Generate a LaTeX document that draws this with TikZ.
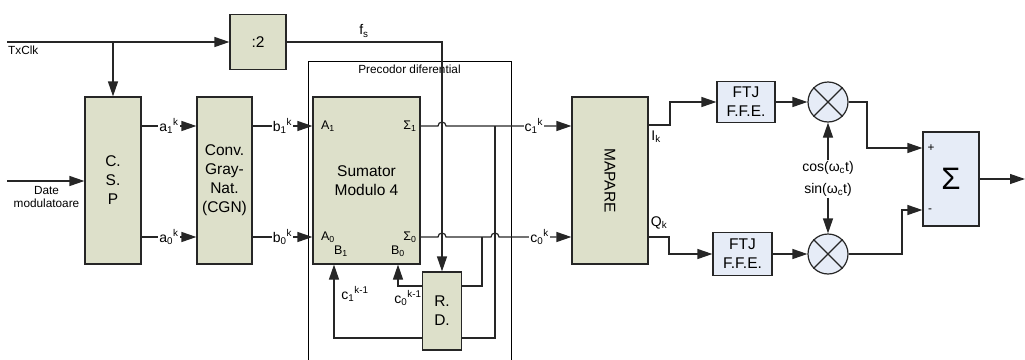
\documentclass[tikz,border=0pt]{standalone}
\usepackage{fontspec}
\setmainfont{Liberation Sans}
\usepackage{graphicx}
\usetikzlibrary{arrows.meta,calc}
\definecolor{boxg}{HTML}{DDE0CA}
\definecolor{boxb}{HTML}{E6ECF7}
\definecolor{ln}{HTML}{262626}
\begin{document}
\begin{tikzpicture}[x=1pt,y=-1pt,
  con/.style={draw=ln,line width=1.2pt},
  arr/.style={con,-{Triangle[length=15pt,width=10pt]}},
  gbox/.style={draw=ln,line width=1.2pt,fill=boxg,inner sep=0pt,align=center,
     font=\fontsize{15.5}{19}\selectfont},
  bbox/.style={draw=ln,line width=1.2pt,fill=boxb,inner sep=0pt,align=center,
     font=\fontsize{15.5}{19}\selectfont},
  mixer/.style={draw=ln,line width=1.2pt,fill=boxb,circle,minimum size=40pt,inner sep=0pt},
  lbl/.style={fill=white,inner sep=1pt,font=\fontsize{14}{16}\selectfont},
  tlbl/.style={inner sep=1pt,font=\fontsize{14}{16}\selectfont},
  small/.style={inner sep=0pt,align=center,font=\fontsize{11.8}{13}\selectfont},
  port/.style={inner sep=0pt,font=\fontsize{12.5}{14}\selectfont},
  frame/.style={draw=black,line width=0.9pt}]
\useasboundingbox (0,0) rectangle (1025,359);

% blocks
\node[gbox,minimum width=56pt,minimum height=55pt] (div2) at (258,42) {:2};
\node[gbox,minimum width=56pt,minimum height=167pt] (csp) at (113,180.5) {C.\\S.\\P};
\node[gbox,minimum width=55pt,minimum height=167pt] (cgn) at (224.5,180.5) {Conv.\\Gray-\\Nat.\\(CGN)};
\node[gbox,minimum width=107pt,minimum height=167pt] (sm) at (366.5,180.5) {Sumator\\Modulo 4};
\node[gbox,minimum width=39pt,minimum height=78pt] (rd) at (442,311) {R.\\D.};
\node[gbox,minimum width=76pt,minimum height=167pt] (mapare) at (610,180.5) {\rotatebox{-90}{MAPARE}};
\node[bbox,minimum width=58pt,minimum height=41pt] (ftj1) at (746,102) {FTJ\\F.F.E.};
\node[bbox,minimum width=59pt,minimum height=43pt] (ftj2) at (742.5,254) {FTJ\\F.F.E.};
\node[mixer] (mix1) at (828,102) {};
\node[mixer] (mix2) at (828,254) {};
\draw[con] (mix1.north east) -- (mix1.south west) (mix1.north west) -- (mix1.south east);
\draw[con] (mix2.north east) -- (mix2.south west) (mix2.north west) -- (mix2.south east);
\node[bbox,minimum width=56pt,minimum height=94pt,font=\fontsize{31}{33}\selectfont] (sum) at (951,179) {Σ};

% precodor frame
\draw[frame] (308,362) -- (308,61) -- (511,61) -- (511,362);
\node[small] (prec) at (409.5,69) {Precodor diferential};

% ports on the adder
\node[port] (pa1) at (328,126) {A\textsubscript{1}};
\node[port] (ps1) at (410,126) {Σ\textsubscript{1}};
\node[port] (pa0) at (328,237) {A\textsubscript{0}};
\node[port] (ps0) at (410,237) {Σ\textsubscript{0}};
\node[port] (pb1) at (341,251) {B\textsubscript{1}};
\node[port] (pb0) at (398,251) {B\textsubscript{0}};

% helper coordinates
\coordinate (txs) at (7,42);
\coordinate (txb) at (113,42);
\coordinate (fsc) at (442,42);
\coordinate (dts) at (7,181);
\coordinate (r1) at (0,126);
\coordinate (r0) at (0,237);
\coordinate (b1x) at (495,126);
\coordinate (b0x) at (482,237);
\coordinate (f1) at (0,338);
\coordinate (f0) at (0,286);
\coordinate (c1col) at (334,0);
\coordinate (c0col) at (398,0);
\coordinate (ik1) at (670,125);
\coordinate (qk1) at (669,237);
\coordinate (m1c) at (867,148);
\coordinate (m2c) at (902,210);
\coordinate (out) at (1025,179);

% clock
\draw[arr] (txs) -- (div2.west |- txs);
\node[small,anchor=west] (txl) at (8,50) {TxClk};
\draw[arr] (txb) -- (csp.north);
\draw[arr] (div2.east) -- (fsc) -- (rd.north);
\node[tlbl] (fsl) at (364,31) {f\textsubscript{s}};

% data input
\draw[arr] (dts) -- (csp.west |- dts);
\node[small] (dtl) at (46.5,196.5) {Date\\modulatoare};

% CSP -> CGN -> adder
\draw[arr] (csp.east |- r1) -- node[lbl] (la1) {a\textsubscript{1}\textsuperscript{k}} (cgn.west |- r1);
\draw[arr] (csp.east |- r0) -- node[lbl] (la0) {a\textsubscript{0}\textsuperscript{k}} (cgn.west |- r0);
\draw[arr] (cgn.east |- r1) -- node[lbl] (lb1) {b\textsubscript{1}\textsuperscript{k}} (sm.west |- r1);
\draw[arr] (cgn.east |- r0) -- node[lbl] (lb0) {b\textsubscript{0}\textsuperscript{k}} (sm.west |- r0);

% adder outputs with jumps
\draw[arr] (sm.east |- r1) -- ($(fsc |- r1)+(-4,0)$) arc[start angle=180,end angle=0,radius=4pt]
   -- node[lbl,pos=0.7] (lc1) {c\textsubscript{1}\textsuperscript{k}} (mapare.west |- r1);
\draw[arr] (sm.east |- r0) -- ($(fsc |- r0)+(-4,0)$) arc[start angle=180,end angle=0,radius=4pt]
   -- ($(b1x |- r0)+(-4,0)$) arc[start angle=180,end angle=0,radius=4pt]
   -- node[lbl,pos=0.56] (lc0) {c\textsubscript{0}\textsuperscript{k}} (mapare.west |- r0);

% feedback through R.D.
\draw[con] (b1x) |- (rd.east |- f1);
\draw[arr] (rd.west |- f1) -| (sm.south -| c1col);
\draw[con] (b0x) |- (rd.east |- f0);
\draw[arr] (rd.west |- f0) -| (sm.south -| c0col);
\node[tlbl] (lc1m) at (355,294) {c\textsubscript{1}\textsuperscript{k-1}};
\node[tlbl] (lc0m) at (408,298) {c\textsubscript{0}\textsuperscript{k-1}};

% mapping outputs
\draw[arr] (mapare.east |- ik1) -- (ik1) |- (ftj1.west);
\draw[arr] (mapare.east |- qk1) -- (qk1) |- (ftj2.west);
\node[tlbl] (lik) at (656,137) {I\textsubscript{k}};
\node[tlbl] (lqk) at (659,223) {Q\textsubscript{k}};

% filters -> mixers
\draw[arr] (ftj1.east) -- (mix1.west);
\draw[arr] (ftj2.east) -- (mix2.west);
\node[tlbl] (cosl) at (828,168) {cos(ω\textsubscript{c}t)};
\node[tlbl] (sinl) at (828,190) {sin(ω\textsubscript{c}t)};
\draw[arr] (cosl.north) -- (mix1.south);
\draw[arr] (sinl.south) -- (mix2.north);

% mixers -> sum
\draw[arr] (mix1.east) -| (m1c) -- (sum.west |- m1c);
\draw[arr] (mix2.east) -| (m2c) -- (sum.west |- m2c);
\node[small] (lplus) at (931,148) {+};
\node[small] (lminus) at (930,211) {-};
\draw[arr] (sum.east |- out) -- (out);
\end{tikzpicture}
\end{document}
